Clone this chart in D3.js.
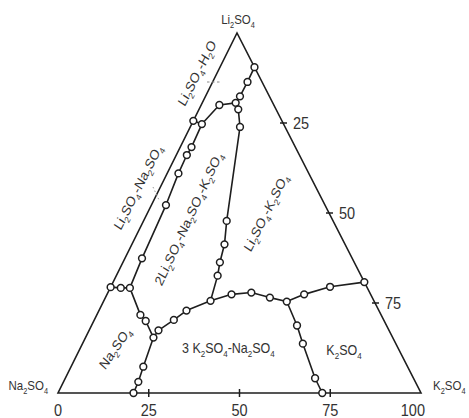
<!DOCTYPE html>
<html>
<head>
<meta charset="utf-8">
<script src="https://cdn.jsdelivr.net/npm/d3@7"></script>
<style>
  html, body { margin: 0; padding: 0; background: #fff; }
  svg { display: block; font-family: "Liberation Sans", Arial, sans-serif; }
</style>
</head>
<body>
<svg id="chart" width="469" height="418"></svg>
<script>
// Ternary phase diagram Li2SO4 – Na2SO4 – K2SO4 (compositions in %, li = Li2SO4, k = K2SO4)

const vertexNames = ["Na2SO4", "K2SO4", "Li2SO4"];
const baseTicks = [0, 25, 50, 75, 100];
const sideTicks = [25, 50, 75];

// crystallisation boundaries, each listed from end to end
const hydrateBoundary = [
  { li: 75.6, k: 0 }, { li: 74.7, k: 2.8 }, { li: 80.0, k: 5.0 }, { li: 80.6, k: 9.2 },
  { li: 82.4, k: 9.5 }, { li: 86.4, k: 9.6 }, { li: 90.5, k: 9.5 }
];
const tripleSaltBoundary = [
  { li: 80.6, k: 9.2 }, { li: 78.8, k: 10.8 }, { li: 73.9, k: 13.7 }, { li: 47.8, k: 22.9 },
  { li: 41.3, k: 25.5 }, { li: 36.3, k: 26.7 }, { li: 32.6, k: 27.9 }, { li: 25.6, k: 29.4 }
];
const doubleSaltBoundary = [
  { li: 74.7, k: 2.8 }, { li: 68.3, k: 3.1 }, { li: 66.1, k: 2.9 }, { li: 61.0, k: 3.1 },
  { li: 52.2, k: 4.0 }, { li: 37.4, k: 4.7 }, { li: 29.2, k: 5.4 }
];
const sodiumBoundary = [
  { li: 29.4, k: 0 }, { li: 29.2, k: 2.9 }, { li: 29.2, k: 5.4 }, { li: 21.7, k: 12.0 },
  { li: 20.0, k: 14.3 }, { li: 15.4, k: 18.7 }
];
const sodiumBaseBoundary = [
  { li: 15.4, k: 18.7 }, { li: 7.3, k: 19.9 }, { li: 3.1, k: 20.6 }, { li: 0, k: 20.8 }
];
const glaseriteBoundary = [
  { li: 15.4, k: 18.7 }, { li: 17.4, k: 19.1 }, { li: 20.3, k: 21.9 }, { li: 22.9, k: 24.1 },
  { li: 25.6, k: 29.4 }, { li: 27.4, k: 34.3 }, { li: 27.9, k: 39.5 }, { li: 26.5, k: 45.3 },
  { li: 25.4, k: 50.5 }, { li: 27.4, k: 54.3 }, { li: 29.5, k: 60.4 }, { li: 30.8, k: 69.2 }
];
const potassiumBoundary = [
  { li: 25.4, k: 50.5 }, { li: 18.75, k: 56.6 }, { li: 13.7, k: 60.7 }, { li: 4.1, k: 68.8 },
  { li: 0, k: 72.8 }
];

const fieldLabels = [
  "Li2SO4-H2O", "Li2SO4-Na2SO4", "2Li2SO4-Na2SO4-K2SO4", "Li2SO4-K2SO4",
  "Na2SO4", "3 K2SO4-Na2SO4", "K2SO4"
];

// ---- geometry ----
const svg = d3.select("#chart");
const leftX = 58, rightX = 421, baseY = 393, apexY = 33, apexX = 237;
const xScale = d3.scaleLinear().domain([0, 100]).range([leftX, rightX]);
const yScale = d3.scaleLinear().domain([0, 100]).range([baseY, apexY]);
const apexShare = (apexX - leftX) / (rightX - leftX);
// vertical stretch of the drawing relative to an equilateral triangle
const stretch = (baseY - apexY) / ((rightX - leftX) * Math.sqrt(3) / 2);

const pos = d => [xScale(d.k + d.li * apexShare), yScale(d.li)];
const line = d3.line().x(d => pos(d)[0]).y(d => pos(d)[1]);

const ink = "#1e1e1e";
const textInk = "#333";

// chemical formula with subscripted stoichiometric digits
function formula(sel, str, fs) {
  sel.attr("font-size", fs);
  let sub = false;
  const shift = fs * 0.28;
  const runs = [];
  for (let i = 0; i < str.length; i++) {
    const c = str[i];
    const isSub = /\d/.test(c) && i > 0 && /[A-Za-z]/.test(str[i - 1]);
    if (runs.length && runs[runs.length - 1].sub === isSub) runs[runs.length - 1].t += c;
    else runs.push({ t: c, sub: isSub });
  }
  runs.forEach(r => {
    const ts = sel.append("tspan").text(r.t);
    if (r.sub && !sub) { ts.attr("dy", shift).attr("font-size", fs * 0.64); sub = true; }
    else if (r.sub) { ts.attr("font-size", fs * 0.64); }
    else if (!r.sub && sub) { ts.attr("dy", -shift); sub = false; }
  });
}

function label(str, x, y, fs, opts = {}) {
  const rot = opts.rotate || 0;
  const t = svg.append("text")
    .attr("transform", `translate(${x},${y}) scale(1,${stretch}) rotate(${rot})`)
    .attr("text-anchor", opts.anchor || "middle")
    .attr("fill", textInk)
    .attr("dy", opts.dy || 0);
  formula(t, str, fs);
  return t;
}

// ---- triangle ----
const corners = [{ li: 0, k: 0 }, { li: 0, k: 100 }, { li: 100, k: 0 }];
svg.append("path")
  .attr("d", line(corners) + "Z")
  .attr("fill", "none").attr("stroke", ink).attr("stroke-width", 1.6)
  .attr("stroke-linejoin", "miter");

// base ticks (K2SO4 %)
baseTicks.filter(v => v > 0 && v < 100).forEach(v => {
  const [x, y] = pos({ li: 0, k: v });
  svg.append("line").attr("x1", x).attr("x2", x).attr("y1", y - 4).attr("y2", y + 4)
    .attr("stroke", ink).attr("stroke-width", 1.5);
});
baseTicks.forEach((v, i) => {
  const [x, y] = pos({ li: 0, k: v });
  const last = i === baseTicks.length - 1;
  svg.append("text")
    .attr("transform", `translate(${last ? x + 4 : x},${y + 23}) scale(1,${stretch})`)
    .attr("text-anchor", last ? "end" : "middle")
    .attr("font-size", 14.5).attr("fill", textInk).text(v);
});

// right side ticks (K2SO4 % along the Li2SO4–K2SO4 edge)
sideTicks.forEach(v => {
  const [x, y] = pos({ li: 100 - v, k: v });
  svg.append("line").attr("x1", x - 3).attr("x2", x + 4).attr("y1", y).attr("y2", y)
    .attr("stroke", ink).attr("stroke-width", 1.5);
  svg.append("text")
    .attr("transform", `translate(${x + 10},${y}) scale(1,${stretch})`)
    .attr("dy", "0.36em").attr("text-anchor", "start")
    .attr("font-size", 14.5).attr("fill", textInk).text(v);
});

// ---- boundaries ----
const curves = [hydrateBoundary, tripleSaltBoundary, doubleSaltBoundary, sodiumBoundary,
  sodiumBaseBoundary, glaseriteBoundary, potassiumBoundary];
svg.append("g").selectAll("path").data(curves).join("path")
  .attr("d", line)
  .attr("fill", "none").attr("stroke", ink).attr("stroke-width", 1.6)
  .attr("stroke-linejoin", "round");

// measured compositions (shared invariant points drawn once)
const seen = new Set();
const points = [];
curves.flat().forEach(d => {
  const key = d.li + "," + d.k;
  if (!seen.has(key)) { seen.add(key); points.push(d); }
});
svg.append("g").selectAll("circle").data(points).join("circle")
  .attr("cx", d => pos(d)[0]).attr("cy", d => pos(d)[1])
  .attr("r", 3.4)
  .attr("fill", "#fff").attr("stroke", ink).attr("stroke-width", 1.5);

// ---- leaders for the narrow fields ----
svg.append("line").attr("x1", 207).attr("x2", 222).attr("y1", 82).attr("y2", 82)
  .attr("stroke", "#888").attr("stroke-width", 1).attr("stroke-dasharray", "2.5,2.5");
svg.append("line").attr("x1", 153).attr("x2", 159).attr("y1", 187).attr("y2", 200)
  .attr("stroke", "#999").attr("stroke-width", 1).attr("stroke-dasharray", "1.5,2.5");

// ---- vertex names ----
label(vertexNames[2], 238, 24, 11.5);
label(vertexNames[0], 48, 390, 11.5, { anchor: "end" });
label(vertexNames[1], 433, 390, 11.5, { anchor: "start" });

// ---- field names ----
label(fieldLabels[0], 197, 73, 12.5, { rotate: -60, dy: "0.35em" });
label(fieldLabels[1], 138, 187, 12.5, { rotate: -60, dy: "0.35em" });
label(fieldLabels[2], 188.5, 218.5, 12.5, { rotate: -62, dy: "0.35em" });
label(fieldLabels[3], 266, 212.5, 12.5, { rotate: -60, dy: "0.35em" });
label(fieldLabels[4], 115, 348, 12.5, { rotate: -52, dy: "0.35em" });
label(fieldLabels[5], 182, 348, 12.5, { anchor: "start", dy: "0.35em" });
label(fieldLabels[6], 344, 350, 12.5, { dy: "0.35em" });
</script>
</body>
</html>
